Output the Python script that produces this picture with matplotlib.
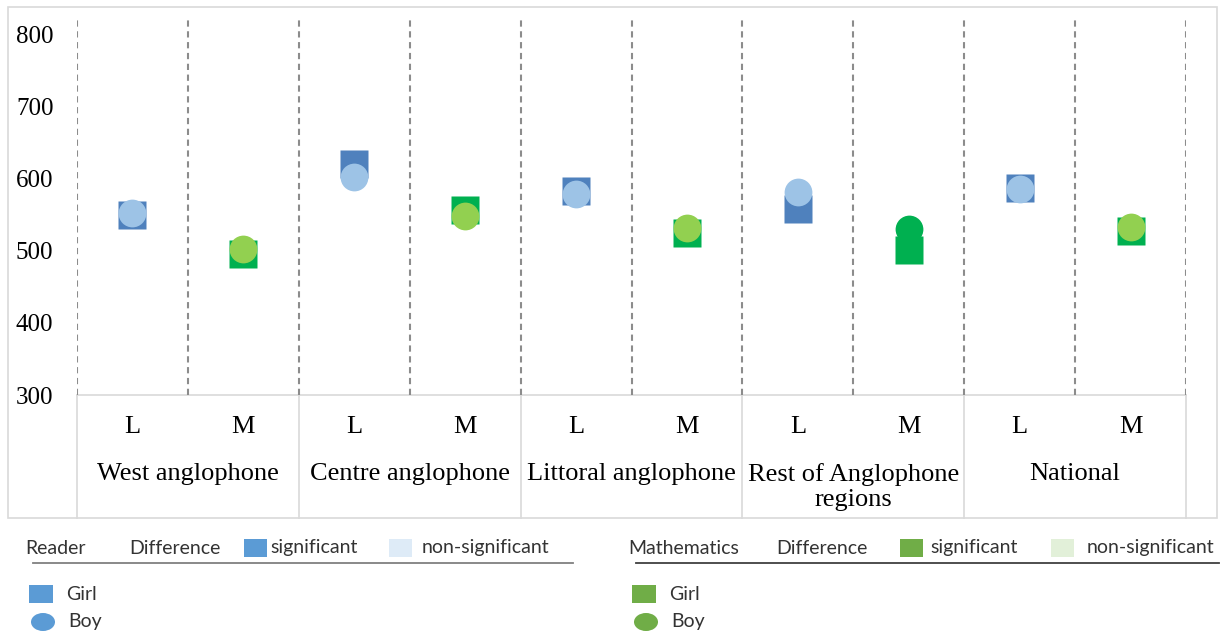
import matplotlib
matplotlib.use("Agg")
import matplotlib.pyplot as plt
from matplotlib import transforms
from matplotlib.patches import Rectangle, Ellipse

W, H = 1221, 634

groups = ["West anglophone", "Centre anglophone", "Littoral anglophone",
          "Rest of Anglophone\nregions", "National"]
subjects = ["L", "M"]
girl = [550, 496, 620, 557, 583, 525, 558, 501, 587, 527]
boy = [553, 503, 602, 548, 579, 532, 582, 530, 586, 533]
boy_significant = [False, False, False, False, False, False, False, True, False, False]
yticks = [300, 400, 500, 600, 700, 800]

# colours
blue_dark, blue_light = "#4F81BD", "#9DC3E6"
green_dark, green_light = "#00B050", "#92D050"
grid_col = "#8C8C8C"
frame_col = "#D9D9D9"

fig = plt.figure(figsize=(W / 100, H / 100), dpi=100)

# overlay in pixel coordinates (y down) for frame, table and legend
ov = fig.add_axes([0, 0, 1, 1], zorder=0)
ov.set_xlim(0, W)
ov.set_ylim(H, 0)
ov.axis("off")

x0, x1, ytop, ybot = 77, 1186, 20, 395
ax = fig.add_axes([x0 / W, 1 - ybot / H, (x1 - x0) / W, (ybot - ytop) / H], zorder=1)
ax.patch.set_alpha(0)
ax.set_xlim(0, 10)
ax.set_ylim(300, 820)
for s in ax.spines.values():
    s.set_visible(False)
ax.set_xticks([])
ax.set_yticks(yticks)
ax.set_yticklabels([str(v) for v in yticks], family="Liberation Serif", fontsize=18)
ax.tick_params(axis="y", length=0, pad=17)

for b in range(11):
    ax.axvline(b, color=grid_col, lw=1.5, ls=(0, (3, 2.2)), zorder=1)

xs = [i + 0.5 for i in range(10)]
for i, x in enumerate(xs):
    is_math = i % 2 == 1
    sq_col = green_dark if is_math else blue_dark
    if boy_significant[i]:
        ci_col = green_dark if is_math else blue_dark
    else:
        ci_col = green_light if is_math else blue_light
    ax.plot([x], [girl[i]], marker="s", ms=20, color=sq_col, mec="none", zorder=3)
    ax.plot([x], [boy[i]], marker="o", ms=20, color=ci_col, mec="none", zorder=4)

# outer frame and category table
ov.add_patch(Rectangle((8, 7), 1209, 511, fill=False, ec=frame_col, lw=1.2))
ov.plot([x0, x1], [ybot, ybot], color=frame_col, lw=1.2)
for g in range(6):
    xp = x0 + g * (x1 - x0) / 5
    ov.plot([xp, xp], [ybot, 518], color=frame_col, lw=1.2)

tr = transforms.blended_transform_factory(ax.transData, ov.transData)
for i, x in enumerate(xs):
    ax.text(x, 427, subjects[i % 2], transform=tr, ha="center", va="center",
            family="Liberation Serif", fontsize=19)
for g, name in enumerate(groups):
    ax.text(2 * g + 1, 463, name, transform=tr, ha="center", va="top",
            family="Liberation Serif", fontsize=19, linespacing=1.2)

# legends
lf = dict(family="Lato", fontsize=14, va="center", color="#333333")


def legend_block(xl, title, sig, light, line_end, line_col, x_diff, x_sq, x_sig, x_lsq, x_nsig):
    ov.text(xl, 548, title, **lf)
    ov.text(x_diff, 548, "Difference", **lf)
    ov.add_patch(Rectangle((x_sq, 539), 23, 18, color=sig, lw=0))
    ov.text(x_sig, 548, "significant", **lf)
    ov.add_patch(Rectangle((x_lsq, 539), 23, 18, color=light, lw=0))
    ov.text(x_nsig, 548, "non-significant", **lf)
    ov.plot([xl + 8, line_end], [563, 563], color=line_col, lw=1.3)
    ov.add_patch(Rectangle((xl + 4, 585), 24, 18, color=sig, lw=0))
    ov.text(xl + 41, 595, "Girl", **lf)
    ov.add_patch(Ellipse((xl + 18, 622), 24, 18, color=sig, lw=0))
    ov.text(xl + 43, 622, "Boy", **lf)


legend_block(25, "Reader", "#5B9BD5", "#DEEBF7", 573, "#808080",
             129, 244, 270, 389, 422)
legend_block(628, "Mathematics", "#70AD47", "#E2F0D9", 1219, "#404040",
             776, 900, 930, 1051, 1087)

fig.savefig("out.png", dpi=100)
